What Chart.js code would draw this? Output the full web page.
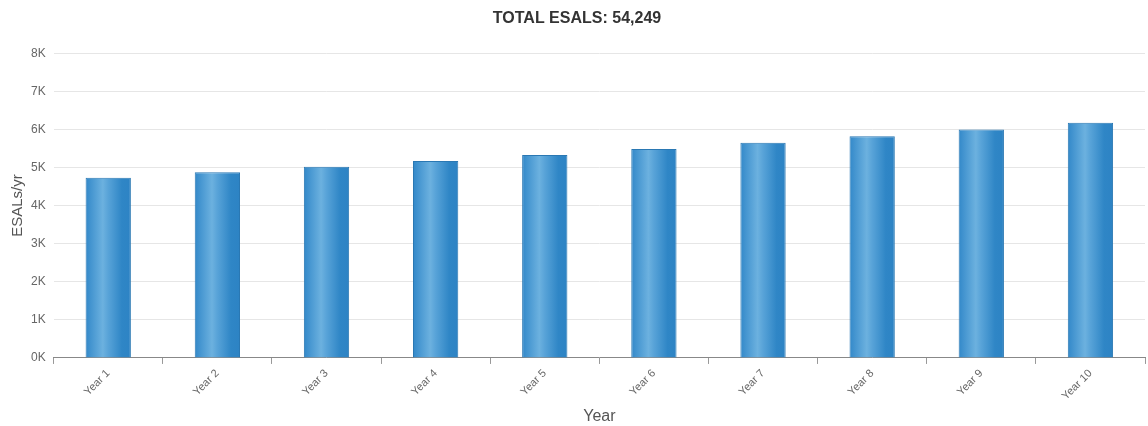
<!DOCTYPE html>
<html>
<head>
<meta charset="utf-8">
<script src="https://cdn.jsdelivr.net/npm/chart.js@4"></script>
<style>
  html, body { margin: 0; padding: 0; background: #fff; }
  #wrap { width: 1148px; height: 426px; position: relative; }
</style>
</head>
<body>
<div id="wrap"><canvas id="esalChart"></canvas></div>
<script>
// ESALs per year over the design period
const years = ['Year 1', 'Year 2', 'Year 3', 'Year 4', 'Year 5', 'Year 6', 'Year 7', 'Year 8', 'Year 9', 'Year 10'];
const esals = [4732, 4874, 5020, 5171, 5326, 5486, 5650, 5820, 5994, 6174];
const totalLabel = 'TOTAL ESALS: 54,249';

const BAR_PCT = 0.415;

// horizontal shading so each bar looks like a rounded column
function barGradient(ctx) {
    const chart = ctx.chart;
    const xScale = chart.scales.x;
    if (!chart.chartArea || !xScale) return '#3a8fcf';
    const center = xScale.getPixelForValue(ctx.dataIndex);
    const half = (xScale.width / years.length) * BAR_PCT / 2;
    const g = chart.ctx.createLinearGradient(center - half, 0, center + half, 0);
    g.addColorStop(0, '#3288c9');
    g.addColorStop(0.38, '#6cb1df');
    g.addColorStop(0.5, '#58a3d8');
    g.addColorStop(0.8, '#2f86c6');
    g.addColorStop(1, '#2d83c4');
    return g;
}

const ctx = document.getElementById('esalChart').getContext('2d');
new Chart(ctx, {
    type: 'bar',
    data: {
        labels: years,
        datasets: [{
            label: 'ESALs/yr',
            data: esals,
            backgroundColor: barGradient,
            borderColor: '#2a78b3',
            borderWidth: 1,
            barPercentage: BAR_PCT,
            categoryPercentage: 1
        }]
    },
    options: {
        responsive: true,
        maintainAspectRatio: false,
        animation: false,
        layout: { padding: { left: 9, right: 3, top: 0, bottom: 0 } },
        plugins: {
            legend: { display: false },
            tooltip: { enabled: false },
            title: {
                display: true,
                text: totalLabel,
                color: '#333',
                font: { family: 'Liberation Sans, Arial, sans-serif', size: 16, weight: 'bold' },
                padding: { top: 9, bottom: 25 }
            }
        },
        scales: {
            x: {
                grid: {
                    display: true,
                    drawOnChartArea: false,
                    drawTicks: true,
                    tickLength: 6,
                    color: '#999'
                },
                border: { display: true, color: '#888', width: 1 },
                ticks: {
                    minRotation: 45,
                    maxRotation: 45,
                    color: '#666',
                    padding: 3,
                    font: { family: 'Liberation Sans, Arial, sans-serif', size: 11 }
                },
                title: {
                    display: true,
                    text: 'Year',
                    color: '#555',
                    font: { family: 'Liberation Sans, Arial, sans-serif', size: 16 },
                    padding: { top: 1, bottom: 0 }
                }
            },
            y: {
                min: 0,
                max: 8000,
                grid: {
                    color: '#e6e6e6',
                    drawTicks: false
                },
                border: { display: false },
                ticks: {
                    stepSize: 1000,
                    color: '#666',
                    padding: 8,
                    font: { family: 'Liberation Sans, Arial, sans-serif', size: 12 },
                    callback: value => (value / 1000) + 'K'
                },
                title: {
                    display: true,
                    text: 'ESALs/yr',
                    color: '#555',
                    font: { family: 'Liberation Sans, Arial, sans-serif', size: 15 },
                    padding: { top: 0, bottom: -4 }
                }
            }
        }
    }
});
</script>
</body>
</html>
